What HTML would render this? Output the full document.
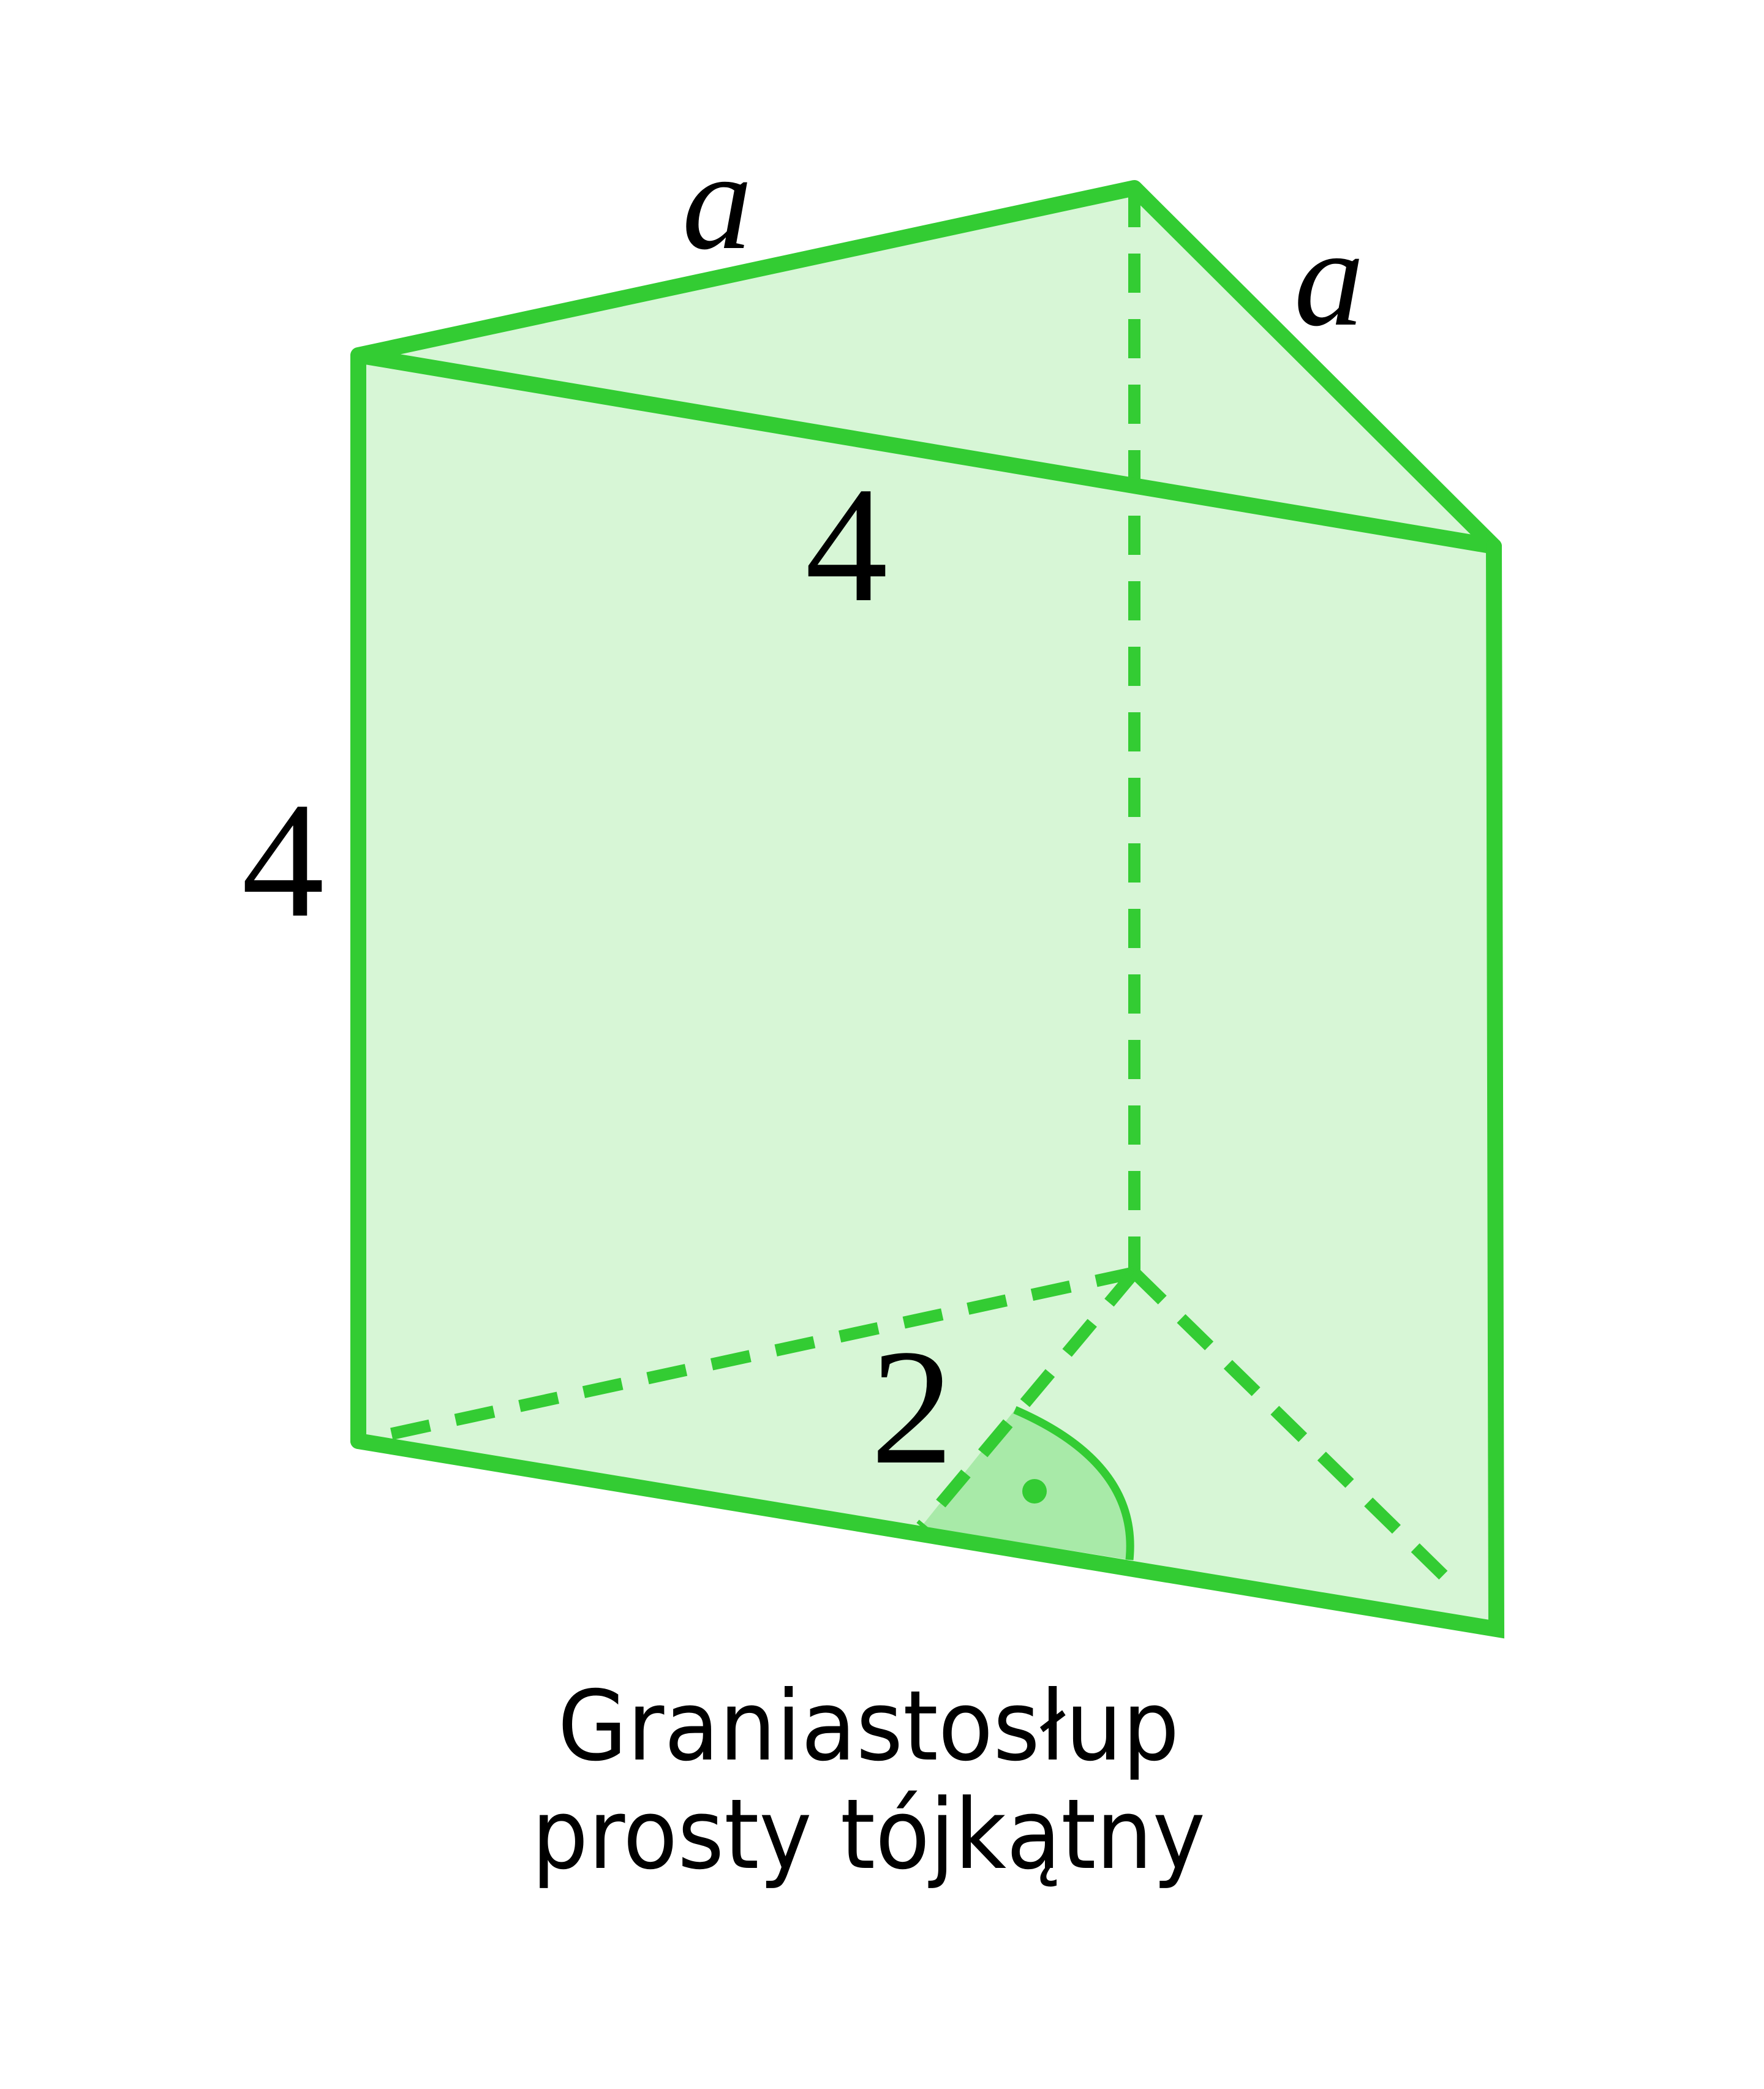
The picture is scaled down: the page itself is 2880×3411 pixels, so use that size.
<!DOCTYPE html>
<html><head><meta charset="utf-8"><style>
html,body{margin:0;padding:0;background:#fff}
svg{display:block}
</style></head><body>
<svg width="2880" height="3411" viewBox="0 0 2880 3411" xmlns="http://www.w3.org/2000/svg">
<polygon points="585,580 1852,307 2439,892 2443,2660 585,2353" fill="#d7f6d6"/>
<path d="M1504,2493 L1657,2302 Q1860,2390 1844,2547 Z" fill="#a8eaa8"/>
<path d="M1657,2302 Q1860,2390 1844,2547" fill="none" stroke="#33cc33" stroke-width="13"/>
<circle cx="1689" cy="2435" r="20" fill="#33cc33"/>
<g stroke="#33cc33" stroke-width="20" fill="none" stroke-dasharray="64 43">
<line x1="1852" y1="307" x2="1852" y2="2078"/>
<line x1="1852" y1="2078" x2="585" y2="2353"/>
<line x1="1852" y1="2078" x2="1504" y2="2493"/>
<line x1="1852" y1="2078" x2="2385" y2="2600"/>
</g>
<g stroke="#33cc33" stroke-width="26" fill="none" stroke-linejoin="round" stroke-linecap="round">
<polyline points="585,2353 585,580 1852,307 2439,892 585,580"/>
<polyline points="2439,892 2443,2660 585,2353" stroke-linejoin="miter"/>
</g>
<g font-family="'Liberation Serif',serif" fill="#000">
<text x="1171" y="405" font-size="230" font-style="italic" text-anchor="middle">a</text>
<text x="2170" y="530" font-size="230" font-style="italic" text-anchor="middle">a</text>
<text x="1382" y="980" font-size="270" text-anchor="middle">4</text>
<text x="462" y="1495" font-size="270" text-anchor="middle">4</text>
<text x="1489" y="2388" font-size="270" text-anchor="middle">2</text>
</g>
<g font-family="'DejaVu Sans','Liberation Sans',sans-serif" fill="#000" font-size="158" text-anchor="middle" textLength="1010">
<text x="1418" y="2873" textLength="1015" lengthAdjust="spacingAndGlyphs">Graniastosłup</text>
<text x="1418" y="3050" textLength="1100" lengthAdjust="spacingAndGlyphs">prosty tójkątny</text>
</g>
</svg>
</body></html>
